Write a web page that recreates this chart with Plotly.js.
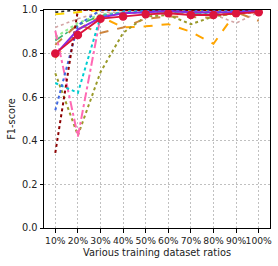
<!DOCTYPE html>
<html><head><meta charset="utf-8">
<script src="https://cdn.plot.ly/plotly-3.0.1.min.js"></script>
<style>html,body{margin:0;padding:0;background:#fff}#c{width:278px;height:266px}</style>
</head><body><div id="c"></div>
<script>
const ratios = ["10%","20%","30%","40%","50%","60%","70%","80%","90%","100%"];
const sBlack = [0.99,1.0,1.0,1.0,1.0,1.0,1.0,1.0,1.0,1.0];
const sRosy = [0.92,0.96,0.99,0.99,0.99,0.99,0.99,0.98,0.94,0.99];
const sLightGreen = [0.875,0.94,0.98,0.99,0.99,0.995,0.99,0.99,0.99,0.995];
const sSeaGreen = [0.86,0.93,0.975,0.985,0.99,0.99,0.985,0.985,0.99,0.99];
const sGold = [0.98,0.99,1.0,1.0,1.0,1.0,1.0,1.0,1.0,1.0];
const sDarkOrange = [0.78,0.91,0.97,0.92,0.925,0.935,0.90,0.845,0.99,0.99];
const sPeru = [0.84,0.935,0.895,0.92,0.96,0.97,0.968,0.965,0.99,0.95];
const sOlive = [0.71,0.425,0.715,0.895,0.97,0.977,0.935,0.97,0.985,0.99];
const sPink = [0.905,0.42,0.97,0.99,0.99,0.995,0.99,0.99,0.995,0.995];
const sCyan = [0.665,0.62,0.97,0.99,0.995,0.995,0.99,0.99,0.995,0.995];
const sBlue = [0.54,0.93,1.0,1.0,1.0,1.0,1.0,1.0,1.0,1.0];
const sDarkRed = [0.345,1.0,1.0,1.0,1.0,1.0,1.0,1.0,1.0,1.0];
const sViolet = [0.795,0.91,0.965,0.985,0.99,0.995,0.99,0.99,0.99,0.995];
const sCrimson = [0.80,0.885,0.96,0.97,0.98,0.985,0.977,0.977,0.985,0.99];

const idx = ratios.map((_, i) => i);
function tr(y, color, dash, width) {
  return {x: idx, y: y, type: 'scatter', mode: 'lines',
    line: {color: color, dash: dash, width: width || 1.6}, hoverinfo: 'skip'};
}
const data = [
  tr(sBlack, '#222222', 'dot'),
  tr(sRosy, '#d4a5a5', 'dot'),
  tr(sLightGreen, '#90ee90', 'dot', 2),
  tr(sSeaGreen, '#3cb371', 'dashdot'),
  tr(sGold, '#ffd700', 'dash', 2),
  tr(sDarkOrange, '#ffa500', 'dash', 2),
  tr(sPeru, '#cd853f', 'dash', 2),
  tr(sOlive, '#9a9a2a', 'dot', 2),
  tr(sPink, '#ff69b4', 'dashdot', 2),
  tr(sCyan, '#00ced1', 'dot', 2),
  tr(sBlue, '#4169e1', 'dot', 2),
  tr(sDarkRed, '#8b0000', 'dot', 2),
  tr(sViolet, '#8a2be2', 'solid', 2),
  {x: idx, y: sCrimson, type: 'scatter', mode: 'lines+markers',
   line: {color: '#dc143c', width: 1.8}, marker: {color: '#dc143c', size: 8.5},
   hoverinfo: 'skip'}
];
const layout = {
  width: 278, height: 266,
  margin: {l: 44, r: 8, t: 10, b: 38},
  paper_bgcolor: '#fff', plot_bgcolor: '#fff',
  showlegend: false,
  font: {family: 'DejaVu Sans', size: 9.5, color: '#222'},
  xaxis: {
    range: [-0.5, 9.5], tickmode: 'array', tickvals: idx, ticktext: ratios,
    showgrid: true, gridcolor: '#b0b0b0', griddash: '2px,2px', gridwidth: 0.8,
    showline: true, linecolor: '#000', linewidth: 1, mirror: true,
    ticks: 'outside', ticklen: 3.5, tickcolor: '#000', zeroline: false,
    tickfont: {size: 9.2}, tickangle: 0,
    title: {text: 'Various training dataset ratios', font: {size: 9.8}, standoff: 4}
  },
  yaxis: {
    range: [0, 1], tickmode: 'array', tickvals: [0, 0.2, 0.4, 0.6, 0.8, 1.0],
    ticktext: ['0.0', '0.2', '0.4', '0.6', '0.8', '1.0'],
    showgrid: true, gridcolor: '#b0b0b0', griddash: '2px,2px', gridwidth: 0.8,
    showline: true, linecolor: '#000', linewidth: 1, mirror: true,
    ticks: 'outside', ticklen: 3.5, tickcolor: '#000', zeroline: false,
    tickfont: {size: 9.8},
    title: {text: 'F1-score', font: {size: 9.8}, standoff: 4}
  }
};
Plotly.newPlot('c', data, layout, {staticPlot: true, displayModeBar: false});
</script></body></html>
